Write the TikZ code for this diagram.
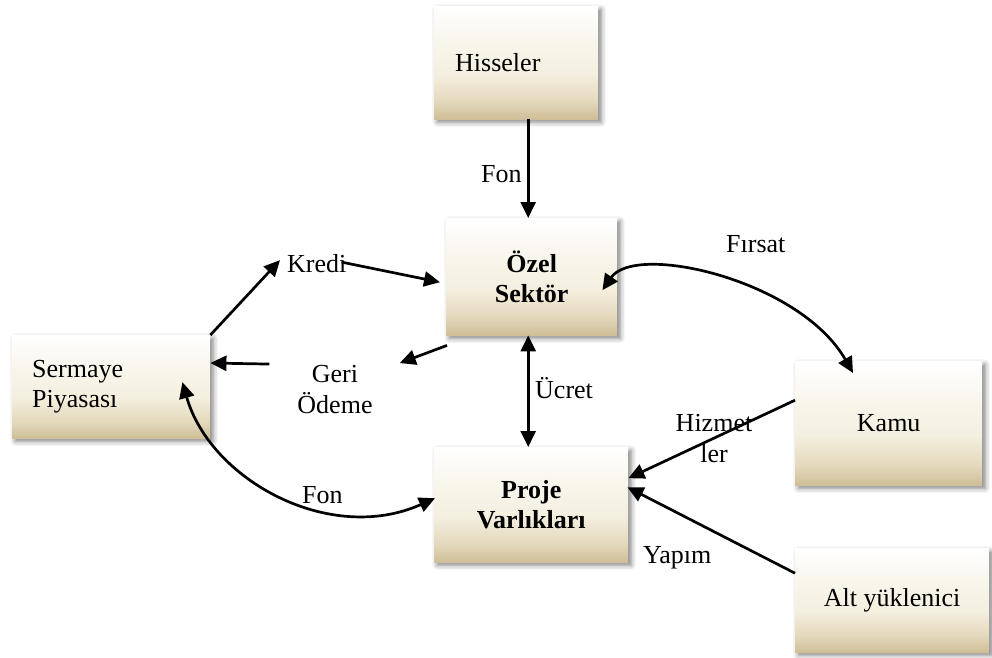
\documentclass[tikz,border=0pt]{standalone}
\usepackage{fontspec}
\setmainfont{Liberation Serif}
\usetikzlibrary{arrows.meta,calc,shadows.blur}

% fill of the boxes: white at the top, cream in the middle, tan at the bottom
% (the box itself spans 25bp..75bp of the shading)
\definecolor{boxtop}{HTML}{FFFFFF}
\definecolor{boxmid}{HTML}{F4EFDF}
\definecolor{boxlow}{HTML}{E4D9BD}
\definecolor{boxbot}{HTML}{CFBE97}
\pgfdeclareverticalshading{boxfill}{100bp}{color(0bp)=(boxbot); color(25bp)=(boxbot); color(33bp)=(boxlow); color(45bp)=(boxmid); color(62bp)=(boxtop!50!boxmid); color(75bp)=(boxtop); color(100bp)=(boxtop)}

\tikzset{
  box/.style={shade, shading=boxfill, anchor=north west, inner sep=0pt,
    font=\fontsize{26}{30}\selectfont,
    blur shadow={shadow xshift=3pt, shadow yshift=-3pt, shadow blur radius=5pt, shadow opacity=50}},
  boldbox/.style={box, align=center, font=\fontsize{26}{30}\selectfont\bfseries},
  lbl/.style={inner sep=0pt, font=\fontsize{26}{31}\selectfont},
  arr/.style={line width=2.7pt, -{Triangle[length=16pt,width=15pt]}},
  darr/.style={line width=2.7pt, {Triangle[length=16pt,width=15pt]}-{Triangle[length=16pt,width=15pt]}},
}

\begin{document}
\begin{tikzpicture}[x=1pt, y=-1pt]
\useasboundingbox (0,0) rectangle (992,657);

% boxes
\node[box, minimum width=164pt, minimum height=113pt, text width=122pt, inner xsep=21pt, align=left] (hs) at (434,6) {Hisseler};
\node[boldbox, minimum width=171pt, minimum height=117pt] (oz) at (446,218) {Özel\\Sektör};
\node[box, minimum width=198pt, minimum height=103pt, text width=158pt, inner xsep=20pt, align=left] (sp) at (12,335) {Sermaye\\Piyasası};
\node[boldbox, minimum width=194pt, minimum height=115pt] (pv) at (434,447) {Proje\\Varlıkları};
\node[box, minimum width=187pt, minimum height=124pt] (kamu) at (795,361) {Kamu};
\node[box, minimum width=194pt, minimum height=104pt] (alt) at (795,548) {Alt yüklenici};

% connector labels
\node[lbl, anchor=base west] (fon1) at (481,182) {Fon};
\node[lbl, anchor=base west] (kredi) at (287,272) {Kredi};
\node[lbl, align=center] (geri) at (335,390) {Geri\\Ödeme};
\node[lbl, anchor=base west] (firsat) at (726,252) {Fırsat};
\node[lbl, anchor=base west] (ucret) at (535,398) {Ücret};
\node[lbl, align=center] (hizmet) at (714,439) {Hizmet\\ler};
\node[lbl, anchor=base west] (fon2) at (302,503) {Fon};
\node[lbl, anchor=base west] (yapim) at (643,563) {Yapım};

% connectors
\draw[arr] ($(hs.south)+(12,0)$) -- ($(oz.north)+(-3.5,0)$);
\draw[darr] ($(oz.south)+(-3.5,0)$) -- ($(pv.north)+(-3,0)$);
\draw[arr] (sp.north east) -- ($(kredi.west)+(-7,-3)$);
\draw[arr] ($(kredi.east)+(-5,-1)$) -- ($(oz.west)+(-6,5.5)$);
\draw[arr] ($(oz.south west)+(1,10)$) -- ($(geri.north east)+(27,-2.5)$);
\draw[arr] ($(geri.north west)+(-28,-1.5)$) -- ($(sp.north east)+(0,28)$);
\draw[darr] ($(oz.east)+(-15,13.5)$) .. controls +(33,-48) and +(-53,-93) .. ($(kamu.north west)+(58,12)$);
\draw[arr] ($(kamu.west)+(0,-23)$) -- ($(pv.east)+(0,-26.5)$);
\draw[arr] ($(alt.west)+(0,-27)$) -- ($(pv.east)+(-1,-17.5)$);
\draw[darr] ($(sp.east)+(-28,-4.5)$) .. controls +(28,98) and +(-105,47) .. ($(pv.west)+(1,-6.5)$);
\end{tikzpicture}
\end{document}
